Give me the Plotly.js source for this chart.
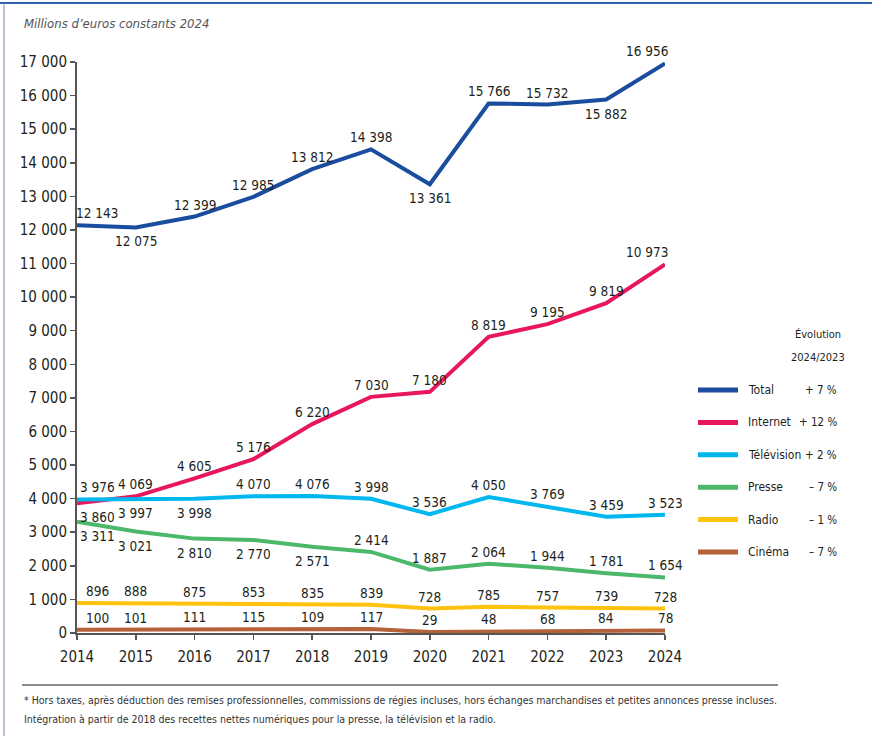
<!DOCTYPE html>
<html>
<head>
<meta charset="utf-8">
<script src="https://cdn.plot.ly/plotly-3.0.1.min.js"></script>
<style>html,body{margin:0;padding:0;background:#fff;}#chart{width:872px;height:736px;}</style>
</head>
<body>
<div id="chart"></div>
<script>
// ---- data ----
const years = [2014, 2015, 2016, 2017, 2018, 2019, 2020, 2021, 2022, 2023, 2024];
const seriesNames = ["Total", "Internet", "Télévision", "Presse", "Radio", "Cinéma"];
const evolution = ["+ 7 %", "+ 12 %", "+ 2 %", "– 7 %", "– 1 %", "– 7 %"];
const total     = [12143, 12075, 12399, 12985, 13812, 14398, 13361, 15766, 15732, 15882, 16956];
const internet  = [3860, 4069, 4605, 5176, 6220, 7030, 7180, 8819, 9195, 9819, 10973];
const television= [3976, 3997, 3998, 4070, 4076, 3998, 3536, 4050, 3769, 3459, 3523];
const presse    = [3311, 3021, 2810, 2770, 2571, 2414, 1887, 2064, 1944, 1781, 1654];
const radio     = [896, 888, 875, 853, 835, 839, 728, 785, 757, 739, 728];
const cinema    = [100, 101, 111, 115, 109, 117, 29, 48, 68, 84, 78];
const yTicks    = [0,1000,2000,3000,4000,5000,6000,7000,8000,9000,10000,11000,12000,13000,14000,15000,16000,17000];
const titleText = "Millions d’euros constants 2024";
const legendHeader = ["Évolution", "2024/2023"];
const footnotes = [
  "* Hors taxes, après déduction des remises professionnelles, commissions de régies incluses, hors échanges marchandises et petites annonces presse incluses.",
  "Intégration à partir de 2018 des recettes nettes numériques pour la presse, la télévision et la radio."
];

// ---- styles ----
const allValues = [total, internet, television, presse, radio, cinema];
const colors = ["#1a4d9e", "#e8175d", "#00b8ee", "#4cb86b", "#ffc20e", "#b5623a"];
// label placement (a = above, b = below)
const placement = [
  "abaaaabaaba",
  "baaaaaaaaaa",
  "abbaaaaaaaa",
  "bbbbbaaaaaa",
  "aaaaaaaaaaa",
  "aaaaaaaaaaa"
];
const FONT = "'Liberation Sans Narrow', 'DejaVu Sans Condensed', 'Open Sans', sans-serif";
const TXT = "#231f20";
const L = 77, R = 665, T = 62, B = 633;
const px = v => (v - L) / (R - L);
const py = v => (B - v) / (B - T);
const fmt = v => String(v).replace(/\B(?=(\d{3})+(?!\d))/g, " ");

const traces = allValues.map((vals, i) => ({
  x: years, y: vals, type: "scatter", mode: "lines", name: seriesNames[i],
  line: {color: colors[i], width: 4},
  hoverinfo: "skip", showlegend: false
}));

const annotations = [];
allValues.forEach((vals, i) => {
  vals.forEach((v, j) => {
    const above = placement[i][j] === "a";
    let xs = 0;
    if (j === 0) xs = 20;
    if (j === years.length - 1 && i < 2) xs = -18;
    annotations.push({
      x: years[j], y: v, xref: "x", yref: "y", text: fmt(v), showarrow: false,
      xanchor: "center", yanchor: "middle",
      xshift: xs, yshift: above ? 12 : -14,
      font: {family: FONT, size: 13.5, color: TXT}
    });
  });
});
function paperText(x, y, text, xanchor, font) {
  annotations.push({x: px(x), y: py(y), xref: "paper", yref: "paper", xanchor: xanchor, yanchor: "middle",
    text: text, showarrow: false, font: font});
}
paperText(22, 24, titleText, "left", {family: FONT, size: 13, color: "#555", style: "italic"});
paperText(818, 334, legendHeader[0], "center", {family: FONT, size: 11, color: TXT});
paperText(818, 357, legendHeader[1], "center", {family: FONT, size: 11, color: TXT});

const shapes = [
  {type: "line", xref: "paper", yref: "paper", x0: px(0), x1: px(872), y0: py(3), y1: py(3), line: {color: "#2f62ad", width: 2}},
  {type: "line", xref: "paper", yref: "paper", x0: px(4), x1: px(4), y0: py(3), y1: py(736), line: {color: "#7a8aa8", width: 1}},
  {type: "line", xref: "paper", yref: "paper", x0: px(22), x1: px(778), y0: py(685), y1: py(685), line: {color: "#8c8c8c", width: 2}}
];

// custom legend
seriesNames.forEach((n, i) => {
  const ry = 390 + i * 32.4;
  shapes.push({type: "line", xref: "paper", yref: "paper", x0: px(698), x1: px(738), y0: py(ry), y1: py(ry),
    line: {color: colors[i], width: 5}});
  paperText(746, ry, n, "left", {family: FONT, size: 12, color: TXT});
  paperText(839, ry, evolution[i], "right", {family: FONT, size: 11.5, color: TXT});
});

footnotes.forEach((f, i) => {
  paperText(22, 700 + i * 19, f, "left", {family: FONT, size: 10.5, color: "#333"});
});

const layout = {
  width: 872, height: 736,
  margin: {l: L, r: 872 - R, t: T, b: 736 - B},
  paper_bgcolor: "#fff", plot_bgcolor: "#fff",
  separators: ", ",
  showlegend: false,
  xaxis: {range: [2014, 2024], tickvals: years, ticktext: years.map(String), showgrid: false, zeroline: false,
    showline: true, linecolor: "#555", linewidth: 2, ticks: "outside", ticklen: 5, tickcolor: "#555", tickwidth: 1.5,
    ticklabelstandoff: 4,
    tickfont: {family: FONT, size: 15, color: TXT}, fixedrange: true},
  yaxis: {range: [0, 17000], tickvals: yTicks, showgrid: false, zeroline: false, tickformat: ",d",
    showline: true, linecolor: "#555", linewidth: 2, ticks: "outside", ticklen: 5, tickcolor: "#555", tickwidth: 1.5,
    tickfont: {family: FONT, size: 15, color: TXT}, fixedrange: true},
  annotations: annotations,
  shapes: shapes
};

Plotly.newPlot("chart", traces, layout, {staticPlot: true, displayModeBar: false});
</script>
</body>
</html>
